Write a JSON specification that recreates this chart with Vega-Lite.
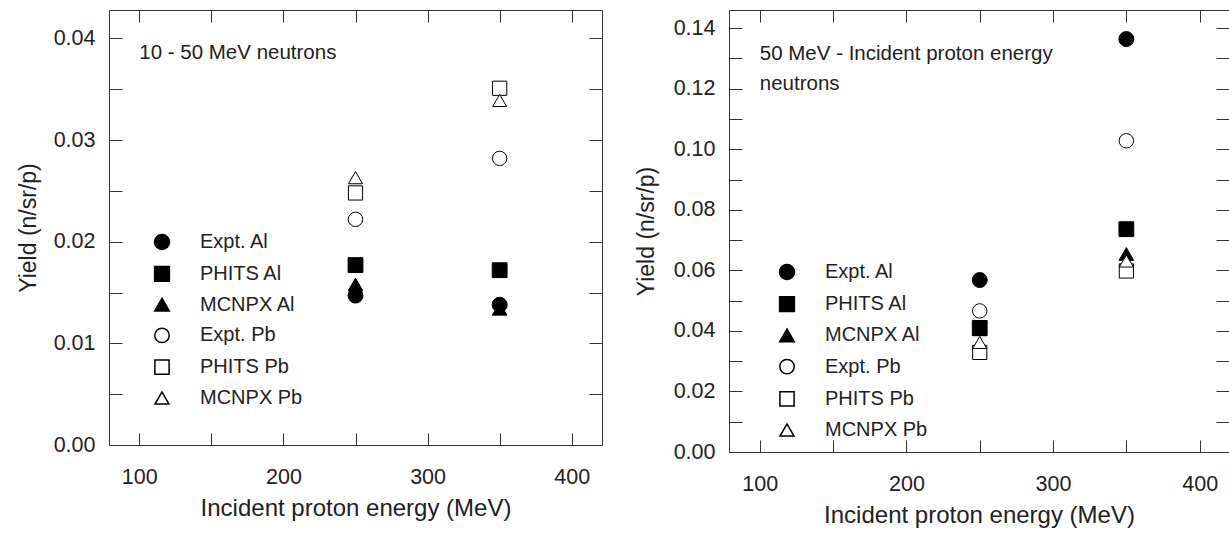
{
  "$schema": "https://vega.github.io/schema/vega-lite/v6.json",
  "padding": {"left": 16, "top": 9, "right": 0, "bottom": 0},
  "background": "white",
  "datasets": {
    "left": [
      {"x": 250, "y": 0.0147, "series": "Expt. Al"},
      {"x": 250, "y": 0.0158, "series": "MCNPX Al"},
      {"x": 250, "y": 0.0177, "series": "PHITS Al"},
      {"x": 250, "y": 0.0222, "series": "Expt. Pb"},
      {"x": 250, "y": 0.0248, "series": "PHITS Pb"},
      {"x": 250, "y": 0.0263, "series": "MCNPX Pb"},
      {"x": 350, "y": 0.0138, "series": "Expt. Al"},
      {"x": 350, "y": 0.0134, "series": "MCNPX Al"},
      {"x": 350, "y": 0.0172, "series": "PHITS Al"},
      {"x": 350, "y": 0.0282, "series": "Expt. Pb"},
      {"x": 350, "y": 0.0351, "series": "PHITS Pb"},
      {"x": 350, "y": 0.0339, "series": "MCNPX Pb"}
    ],
    "right": [
      {"x": 250, "y": 0.0568, "series": "Expt. Al"},
      {"x": 250, "y": 0.0410, "series": "PHITS Al"},
      {"x": 250, "y": 0.0405, "series": "MCNPX Al"},
      {"x": 250, "y": 0.0466, "series": "Expt. Pb"},
      {"x": 250, "y": 0.0329, "series": "PHITS Pb"},
      {"x": 250, "y": 0.0362, "series": "MCNPX Pb"},
      {"x": 350, "y": 0.1364, "series": "Expt. Al"},
      {"x": 350, "y": 0.0736, "series": "PHITS Al"},
      {"x": 350, "y": 0.0654, "series": "MCNPX Al"},
      {"x": 350, "y": 0.1028, "series": "Expt. Pb"},
      {"x": 350, "y": 0.0598, "series": "PHITS Pb"},
      {"x": 350, "y": 0.0631, "series": "MCNPX Pb"}
    ],
    "notesLeft": [
      {"x": 100, "y": 0.0386, "text": "10 - 50 MeV neutrons"}
    ],
    "notesRight": [
      {"x": 100, "y": 0.1314, "text": "50 MeV - Incident proton energy"},
      {"x": 100, "y": 0.1214, "text": "neutrons"}
    ]
  },
  "spacing": 31,
  "hconcat": [
    {
      "width": 493,
      "height": 435,
      "layer": [
        {
          "data": {"name": "left"},
          "mark": {"type": "point", "filled": true, "stroke": "black", "strokeWidth": 1, "opacity": 1},
          "encoding": {
            "x": {
              "field": "x", "type": "quantitative",
              "scale": {"domain": [79, 421], "nice": false, "zero": false},
              "axis": {
                "orient": "bottom",
                "values": [100, 150, 200, 250, 300, 350, 400],
                "labelExpr": "datum.value % 100 === 0 ? datum.label : ''",
                "tickSize": -12,
                "labelPadding": 33,
                "title": "Incident proton energy (MeV)",
                "titleFontSize": 24,
                "titlePadding": 9,
                "encode": {"ticks": {"update": {"y2": {"signal": "datum.value % 100 === 0 ? -12 : -8"}}}}
              }
            },
            "y": {
              "field": "y", "type": "quantitative",
              "scale": {"domain": [0, 0.0428], "nice": false, "zero": true},
              "axis": {
                "orient": "left",
                "values": [0, 0.005, 0.01, 0.015, 0.02, 0.025, 0.03, 0.035, 0.04],
                "format": ".2f",
                "labelExpr": "round(datum.value * 1000) % 10 === 0 ? datum.label : ''",
                "tickSize": -13,
                "labelPadding": 27,
                "title": "Yield (n/sr/p)",
                "titlePadding": 13,
                "encode": {"ticks": {"update": {"x2": {"signal": "round(datum.value * 1000) % 10 === 0 ? 13 : 8"}}}}
              }
            },
            "shape": {
              "field": "series", "type": "nominal",
              "scale": {"domain": ["Expt. Al", "PHITS Al", "MCNPX Al", "Expt. Pb", "PHITS Pb", "MCNPX Pb"], "range": ["circle", "square", "triangle-up", "circle", "square", "triangle-up"]},
              "legend": {"orient": "none", "legendX": 43, "legendY": 222, "title": null, "labelFontSize": 20, "labelColor": "#222", "rowPadding": 9.8, "labelOffset": 28, "encode": {"symbols": {"update": {"stroke": {"value": "black"}, "strokeWidth": {"value": 1}}}}}
            },
            "fill": {
              "field": "series", "type": "nominal",
              "scale": {"domain": ["Expt. Al", "PHITS Al", "MCNPX Al", "Expt. Pb", "PHITS Pb", "MCNPX Pb"], "range": ["black", "black", "black", "white", "white", "white"]},
              "legend": {"orient": "none", "legendX": 43, "legendY": 222, "title": null, "labelFontSize": 20, "labelColor": "#222", "rowPadding": 9.8, "labelOffset": 28, "encode": {"symbols": {"update": {"stroke": {"value": "black"}, "strokeWidth": {"value": 1}}}}}
            },
            "size": {
              "field": "series", "type": "nominal",
              "scale": {"domain": ["Expt. Al", "PHITS Al", "MCNPX Al", "Expt. Pb", "PHITS Pb", "MCNPX Pb"], "range": [225, 196, 289, 196, 150, 289]},
              "legend": {"orient": "none", "legendX": 43, "legendY": 222, "title": null, "labelFontSize": 20, "labelColor": "#222", "rowPadding": 9.8, "labelOffset": 28, "encode": {"symbols": {"update": {"stroke": {"value": "black"}, "strokeWidth": {"value": 1}}}}}
            }
          }
        },
        {
          "data": {"name": "notesLeft"},
          "mark": {"type": "text", "align": "left", "baseline": "middle", "fontSize": 20.5, "color": "#222"},
          "encoding": {
            "x": {"field": "x", "type": "quantitative", "axis": {"orient": "top", "values": [100, 150, 200, 250, 300, 350, 400], "labels": false, "title": null, "tickSize": -12, "encode": {"ticks": {"update": {"y2": {"signal": "datum.value % 100 === 0 ? 12 : 7"}}}}}},
            "y": {"field": "y", "type": "quantitative", "axis": {"orient": "right", "values": [0, 0.005, 0.01, 0.015, 0.02, 0.025, 0.03, 0.035, 0.04], "labels": false, "title": null, "tickSize": -13}},
            "text": {"field": "text"}
          }
        }
      ]
    },
    {
      "width": 500,
      "height": 442,
      "layer": [
        {
          "data": {"name": "right"},
          "mark": {"type": "point", "filled": true, "stroke": "black", "strokeWidth": 1, "opacity": 1},
          "encoding": {
            "x": {
              "field": "x", "type": "quantitative",
              "scale": {"domain": [79, 420], "nice": false, "zero": false},
              "axis": {
                "orient": "bottom",
                "values": [100, 150, 200, 250, 300, 350, 400],
                "labelExpr": "datum.value % 100 === 0 ? datum.label : ''",
                "tickSize": -12,
                "labelPadding": 33,
                "title": "Incident proton energy (MeV)",
                "titleFontSize": 24,
                "titlePadding": 9,
                "encode": {"ticks": {"update": {"y2": {"signal": "datum.value % 100 === 0 ? -12 : -8"}}}}
              }
            },
            "y": {
              "field": "y", "type": "quantitative",
              "scale": {"domain": [0, 0.146], "nice": false, "zero": true},
              "axis": {
                "orient": "left",
                "values": [0, 0.01, 0.02, 0.03, 0.04, 0.05, 0.06, 0.07, 0.08, 0.09, 0.1, 0.11, 0.12, 0.13, 0.14],
                "format": ".2f",
                "labelExpr": "round(datum.value * 100) % 2 === 0 ? datum.label : ''",
                "tickSize": -13,
                "labelPadding": 27,
                "title": "Yield (n/sr/p)",
                "titlePadding": 15,
                "encode": {"ticks": {"update": {"x2": {"signal": "round(datum.value * 100) % 2 === 0 ? 13 : 8"}}}}
              }
            },
            "shape": {
              "field": "series", "type": "nominal",
              "scale": {"domain": ["Expt. Al", "PHITS Al", "MCNPX Al", "Expt. Pb", "PHITS Pb", "MCNPX Pb"], "range": ["circle", "square", "triangle-up", "circle", "square", "triangle-up"]},
              "legend": {"orient": "none", "legendX": 48, "legendY": 252, "title": null, "labelFontSize": 20, "labelColor": "#222", "rowPadding": 10.2, "labelOffset": 28, "encode": {"symbols": {"update": {"stroke": {"value": "black"}, "strokeWidth": {"value": 1}}}}}
            },
            "fill": {
              "field": "series", "type": "nominal",
              "scale": {"domain": ["Expt. Al", "PHITS Al", "MCNPX Al", "Expt. Pb", "PHITS Pb", "MCNPX Pb"], "range": ["black", "black", "black", "white", "white", "white"]},
              "legend": {"orient": "none", "legendX": 48, "legendY": 252, "title": null, "labelFontSize": 20, "labelColor": "#222", "rowPadding": 10.2, "labelOffset": 28, "encode": {"symbols": {"update": {"stroke": {"value": "black"}, "strokeWidth": {"value": 1}}}}}
            },
            "size": {
              "field": "series", "type": "nominal",
              "scale": {"domain": ["Expt. Al", "PHITS Al", "MCNPX Al", "Expt. Pb", "PHITS Pb", "MCNPX Pb"], "range": [225, 196, 289, 196, 150, 289]},
              "legend": {"orient": "none", "legendX": 48, "legendY": 252, "title": null, "labelFontSize": 20, "labelColor": "#222", "rowPadding": 10.2, "labelOffset": 28, "encode": {"symbols": {"update": {"stroke": {"value": "black"}, "strokeWidth": {"value": 1}}}}}
            }
          }
        },
        {
          "data": {"name": "notesRight"},
          "mark": {"type": "text", "align": "left", "baseline": "middle", "fontSize": 20.5, "color": "#222"},
          "encoding": {
            "x": {"field": "x", "type": "quantitative", "axis": {"orient": "top", "values": [100, 150, 200, 250, 300, 350, 400], "labels": false, "title": null, "tickSize": -12, "encode": {"ticks": {"update": {"y2": {"signal": "datum.value % 100 === 0 ? 12 : 7"}}}}}},
            "y": {"field": "y", "type": "quantitative", "axis": {"orient": "right", "values": [0, 0.01, 0.02, 0.03, 0.04, 0.05, 0.06, 0.07, 0.08, 0.09, 0.1, 0.11, 0.12, 0.13, 0.14], "labels": false, "title": null, "tickSize": -13, "encode": {"ticks": {"update": {"x2": {"signal": "round(datum.value * 100) % 2 === 0 ? -13 : -8"}}}}}},
            "text": {"field": "text"}
          }
        }
      ]
    }
  ],
  "resolve": {
    "scale": {"shape": "independent", "fill": "independent", "size": "independent"},
    "legend": {"shape": "independent", "fill": "independent", "size": "independent"}
  },
  "config": {
    "font": "Liberation Sans",
    "view": {"stroke": "#333", "strokeWidth": 1},
    "axis": {
      "domain": false,
      "grid": false,
      "tickColor": "#333",
      "tickWidth": 1,
      "labelColor": "#222",
      "labelFontSize": 21.5,
      "labelFont": "Liberation Sans",
      "titleFont": "Liberation Sans",
      "titleFontSize": 23,
      "titleFontWeight": "normal",
      "titleColor": "#222"
    },
    "legend": {"labelFont": "Liberation Sans", "labelBaseline": "middle"}
  }
}
